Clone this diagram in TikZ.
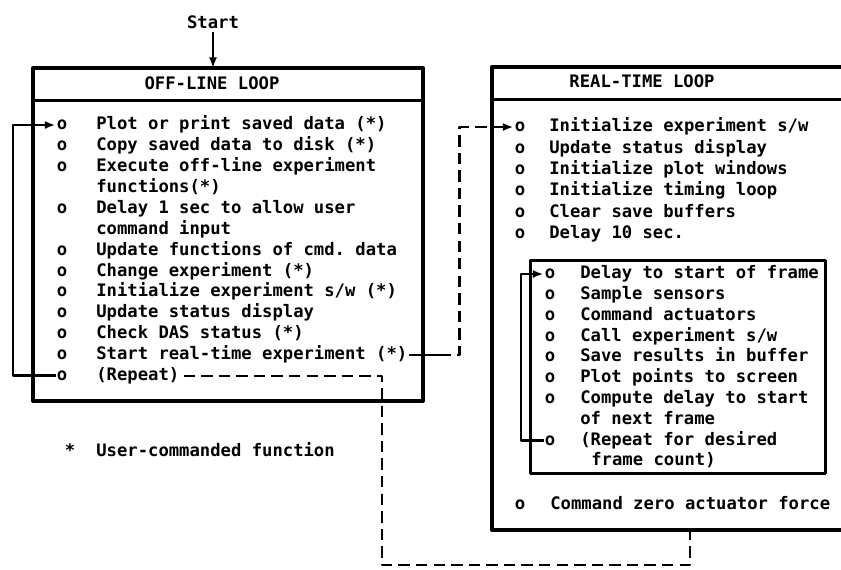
\documentclass[tikz,border=0pt]{standalone}
\usepackage{fontspec}
\setmonofont{DejaVu Sans Mono}
\usetikzlibrary{arrows.meta}

\begin{document}
\begin{tikzpicture}[x=0.02cm,y=-0.02cm,line width=1.5pt,line join=round,
  font=\ttfamily\bfseries\fontsize{9.8}{12}\selectfont,
  entry/.style={anchor=west,inner sep=0pt,text height=1.5ex,text depth=.25ex},
  ring/.style={inner sep=0pt,text height=1.5ex,text depth=.25ex},
  boxline/.style={line width=2.3pt},
  flow/.style={-{Latex[length=6pt,width=4.5pt]}},
  dashline/.style={line width=1.3pt,dash pattern=on 6.5pt off 3.5pt}]
\useasboundingbox (0,0) rectangle (841,569);
\node[inner sep=1pt] (start) at (213,22) {Start};
\coordinate (offtop) at (213,68);
\draw[line width=1.1pt,flow] (start) -- (offtop);
\draw[boxline] (33,68) rectangle (423,401);
\draw[line width=1.7pt] (33,100) -- (423,100);
\node[ring] (offhead) at (212,85) {OFF-LINE LOOP};
\node[ring] (a0) at (62,125) {o};
\node[entry] (ta0) at (95,125) {Plot or print saved data (*)};
\node[ring] (a1) at (62,145.9) {o};
\node[entry] (ta1) at (95,145.9) {Copy saved data to disk (*)};
\node[ring] (a2) at (62,166.8) {o};
\node[entry] (ta2) at (95,166.8) {Execute off-line experiment};
\node[entry] (ta3) at (95,187.7) {functions(*)};
\node[ring] (a4) at (62,208.6) {o};
\node[entry] (ta4) at (95,208.6) {Delay 1 sec to allow user};
\node[entry] (ta5) at (95,229.5) {command input};
\node[ring] (a6) at (62,250.4) {o};
\node[entry] (ta6) at (95,250.4) {Update functions of cmd. data};
\node[ring] (a7) at (62,271.3) {o};
\node[entry] (ta7) at (95,271.3) {Change experiment (*)};
\node[ring] (a8) at (62,292.2) {o};
\node[entry] (ta8) at (95,292.2) {Initialize experiment s/w (*)};
\node[ring] (a9) at (62,313.1) {o};
\node[entry] (ta9) at (95,313.1) {Update status display};
\node[ring] (a10) at (62,334) {o};
\node[entry] (ta10) at (95,334) {Check DAS status (*)};
\node[ring] (a11) at (62,354.9) {o};
\node[entry] (ta11) at (95,354.9) {Start real-time experiment (*)};
\node[ring] (a12) at (62,375.8) {o};
\node[entry] (ta12) at (95,375.8) {(Repeat)};
\coordinate (offloop) at (13,125);
\draw[flow] (a12.west) -| (offloop) -- (a0.west);
\node[ring] (star) at (70,452) {*};
\node[entry] (note) at (95,452) {User-commanded function};
\draw[boxline] (841,67) -- (492,67) -- (492,530) -- (841,530);
\draw[line width=1.7pt] (492,99) -- (841,99);
\node[ring] (rthead) at (642,83) {REAL-TIME LOOP};
\node[ring] (r0) at (520,127) {o};
\node[entry] (tr0) at (548,127) {Initialize experiment s/w};
\node[ring] (r1) at (520,148.4) {o};
\node[entry] (tr1) at (548,148.4) {Update status display};
\node[ring] (r2) at (520,169.8) {o};
\node[entry] (tr2) at (548,169.8) {Initialize plot windows};
\node[ring] (r3) at (520,191.2) {o};
\node[entry] (tr3) at (548,191.2) {Initialize timing loop};
\node[ring] (r4) at (520,212.6) {o};
\node[entry] (tr4) at (548,212.6) {Clear save buffers};
\node[ring] (r5) at (520,234) {o};
\node[entry] (tr5) at (548,234) {Delay 10 sec.};
\draw[line width=1.7pt] (530,260) rectangle (825,473);
\node[ring] (f0) at (550,274) {o};
\node[entry] (tf0) at (579,274) {Delay to start of frame};
\node[ring] (f1) at (550,294.8) {o};
\node[entry] (tf1) at (579,294.8) {Sample sensors};
\node[ring] (f2) at (550,315.6) {o};
\node[entry] (tf2) at (579,315.6) {Command actuators};
\node[ring] (f3) at (550,336.4) {o};
\node[entry] (tf3) at (579,336.4) {Call experiment s/w};
\node[ring] (f4) at (550,357.2) {o};
\node[entry] (tf4) at (579,357.2) {Save results in buffer};
\node[ring] (f5) at (550,378) {o};
\node[entry] (tf5) at (579,378) {Plot points to screen};
\node[ring] (f6) at (550,398.8) {o};
\node[entry] (tf6) at (579,398.8) {Compute delay to start};
\node[entry] (tf7) at (579,419.6) {of next frame};
\node[ring] (f8) at (550,440.4) {o};
\node[entry] (tf8) at (579,440.4) {(Repeat for desired};
\node[entry] (tf9) at (590,461.2) {frame count)};
\coordinate (frameloop) at (521,274);
\draw[flow] (f8.west) -| (frameloop) -- (f0.west);
\node[ring] (z0) at (520,505) {o};
\node[entry] (tz0) at (549,505) {Command zero actuator force};
\draw (ta11.east) -- ++(31,0) coordinate (stub);
\draw[dashline,flow] (stub) -- ++(20,0) |- (r0.west);
\coordinate (backlow) at (382,565);
\coordinate (rtbottom) at (690,530);
\draw[dashline] (ta12.east) ++(3,0) -| (backlow) -| (rtbottom);
\end{tikzpicture}
\end{document}
